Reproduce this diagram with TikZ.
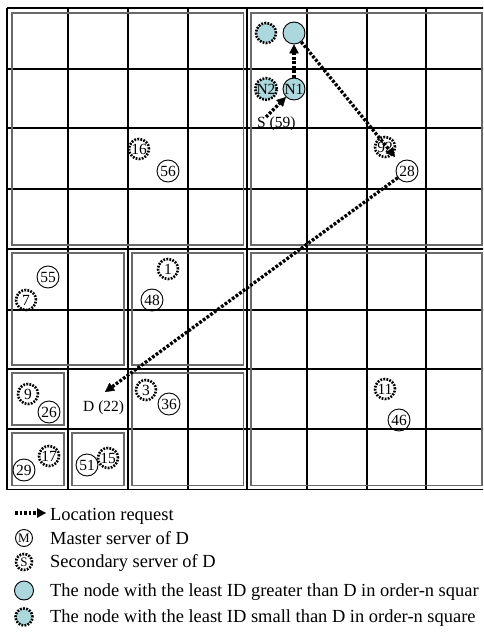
\documentclass[tikz,border=0pt]{standalone}
\usepackage{fontspec}
\setmainfont{Liberation Serif}
\usetikzlibrary{arrows.meta}
\definecolor{nodecyan}{RGB}{172,215,221}
\definecolor{framegray}{RGB}{105,105,105}
\newcommand{\lblfont}{\fontsize{15.5}{16}\selectfont}
\newcommand{\legfont}{\fontsize{18.45}{20}\selectfont}
\newcommand{\tinyfont}{\fontsize{13}{14}\selectfont}
\begin{document}
\begin{tikzpicture}[x=1pt,y=-1pt,
  gridline/.style={black, line width=1.7pt},
  innerframe/.style={framegray, line width=1.3pt},
  master/.style={circle, draw=black, line width=0.9pt, minimum size=22pt, inner sep=0pt, font=\lblfont},
  second/.style={circle, draw=black, line width=2.6pt, dash pattern=on 1.8pt off 1.3pt, minimum size=20pt, inner sep=0pt, font=\lblfont},
  lbl/.style={font=\lblfont, inner sep=0pt, anchor=base west},
  legtext/.style={font=\legfont, inner sep=0pt, anchor=base west},
  request/.style={line width=3.3pt, dash pattern=on 2.8pt off 1.7pt, -{Triangle[length=9pt,width=9.5pt,line width=0.4pt]}}
]
\useasboundingbox (0,0) rectangle (483,644);
\fill[white] (0,0) rectangle (483,644);
\clip (0,0) rectangle (483,644);

% grid
\foreach \x in {7,68,128,188,247,307,367,426,487}
  \draw[gridline] (\x,8) -- (\x,489.5);
\foreach \y in {8,69,128,189,249,310,369,429,489.5}
  \draw[gridline] (7,\y) -- (487,\y);

% inner gray frames
\draw[innerframe] (12,13) rectangle (243.5,245);
\draw[innerframe] (251,13) rectangle (482,245);
\draw[innerframe] (251,253) rectangle (482,485.5);
\draw[innerframe] (12,253) rectangle (124,365);
\draw[innerframe] (132,253) rectangle (243.5,365);
\draw[innerframe] (132,373) rectangle (243.5,485.5);
\draw[innerframe] (12,373) rectangle (64,425);
\draw[innerframe] (12,433) rectangle (64,485.5);
\draw[innerframe] (72,433) rectangle (124,485.5);

% nodes
\node[second] (n16) at (139,149) {16};
\node[master] (n56) at (168,171) {56};
\node[second, fill=nodecyan] (g2) at (266,33) {};
\node[master, fill=nodecyan] (g1) at (294,33) {};
\node[second, fill=nodecyan] (N2) at (266,89) {N2};
\node[master, fill=nodecyan] (N1) at (294,89) {N1};
\node[lbl] (S) at (257,128) {S (59)};
\node[second] (n92) at (385,147) {92};
\node[master] (n28) at (407,171) {28};
\node[master] (n55) at (48,277) {55};
\node[second] (n7) at (26,300) {7};
\node[second] (n1) at (168,269) {1};
\node[master] (n48) at (152,300) {48};
\node[second] (n9) at (28,394) {9};
\node[master] (n26) at (49,412) {26};
\node[lbl] (D) at (83,411) {D (22)};
\node[second] (n3) at (146,390) {3};
\node[master] (n36) at (169,404) {36};
\node[second] (n17) at (49,456) {17};
\node[master] (n29) at (24,470) {29};
\node[master] (n51) at (87,465) {51};
\node[second] (n15) at (108,458) {15};
\node[second] (n11) at (385,389) {11};
\node[master] (n46) at (399,420) {46};

% request path
\coordinate (sfrom) at (266,117);
\coordinate (tip92) at (395,157);
\coordinate (tipD) at (105,392);
\draw[request] (sfrom) -- (N1);
\draw[request] (N1) -- (g1);
\draw[request] (g1) -- (tip92);
\draw[request] (n28) -- (tipD);

% legend
\coordinate (la) at (15,513);
\coordinate (lb) at (46,513);
\draw[request] (la) -- (lb);
\node[legtext] (t1) at (50,520) {Location request};
\node[master, minimum size=17pt, font=\tinyfont] (lm) at (24,538) {M};
\node[legtext] (t2) at (50,544) {Master server of D};
\node[second, minimum size=16pt, font=\tinyfont] (ls) at (24,562) {S};
\node[legtext] (t3) at (50,567.5) {Secondary server of D};
\node[master, fill=nodecyan, minimum size=19pt] (lg) at (24,590.5) {};
\node[legtext] (t4) at (50,596.5) {The node with the least ID greater than D in order-n squar};
\node[second, fill=nodecyan, minimum size=17pt] (ln) at (24,617) {};
\node[legtext] (t5) at (50,622) {The node with the least ID small than D in order-n square};
\end{tikzpicture}
\end{document}
